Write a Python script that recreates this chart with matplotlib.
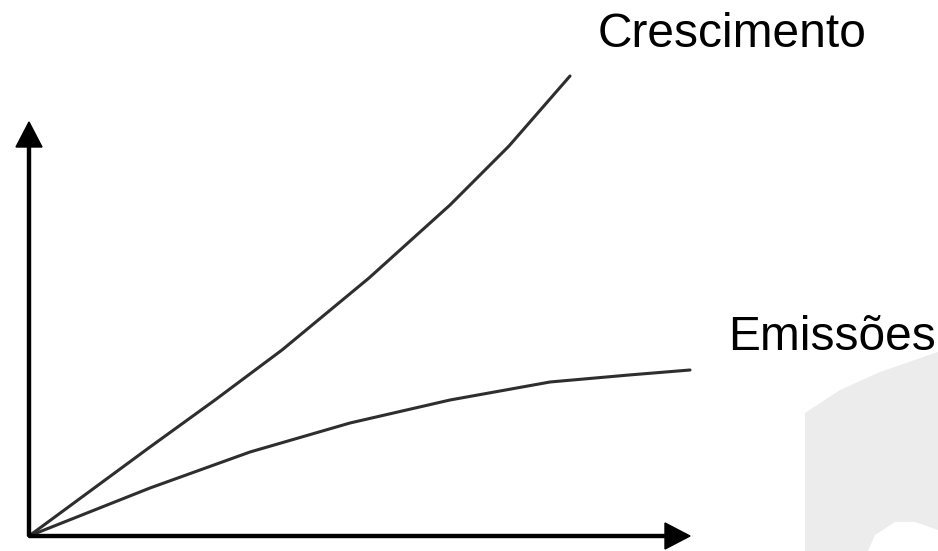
import numpy as np
import matplotlib
matplotlib.use("Agg")
import matplotlib.pyplot as plt
from matplotlib.patches import Polygon

plt.rcParams["font.family"] = ["Liberation Sans", "DejaVu Sans"]

# Curves (units: pixels from the origin)
cresc_x = [0, 121, 186, 253, 340, 421, 480, 541]
cresc_y = [0, 89, 136, 186, 258, 331, 390, 460]
emis_x = [0, 121, 221, 321, 421, 521, 600, 661]
emis_y = [0, 48, 84, 113, 136, 154, 161, 166]
labels = ["Crescimento", "Emissões"]

W, H = 938, 551
ox, oy = 29, 536  # origin in image pixels

fig = plt.figure(figsize=(W / 100, H / 100), dpi=100)
ax = fig.add_axes([0, 0, 1, 1])
ax.set_xlim(-ox, W - ox)
ax.set_ylim(-(H - oy), oy)
ax.axis("off")

# light watermark shape at the bottom right
shape_px = [(805, 551), (805, 413), (840, 390), (880, 372), (938, 352),
            (938, 530), (915, 522), (895, 522), (875, 535), (868, 551)]
shape = Polygon([(x - ox, oy - y) for x, y in shape_px], closed=True,
                facecolor="#ececec", edgecolor="none", zorder=0)
ax.add_patch(shape)

# axes with arrow heads
ax.arrow(0, 0, 0, 414, width=3, head_width=26, head_length=25,
         length_includes_head=True, color="black", zorder=3)
ax.arrow(0, 0, 661, 0, width=3, head_width=26, head_length=25,
         length_includes_head=True, color="black", zorder=3)

ax.plot(cresc_x, cresc_y, color="#2e2e2e", lw=2.2, solid_capstyle="round",
        solid_joinstyle="round")
ax.plot(emis_x, emis_y, color="#2e2e2e", lw=2.2, solid_capstyle="round",
        solid_joinstyle="round")

ax.text(569, 489, labels[0], fontsize=34.5, va="baseline", ha="left")
ax.text(699, 186, labels[1], fontsize=34.5, va="baseline", ha="left")

fig.savefig("out.png", dpi=100, facecolor="white")
